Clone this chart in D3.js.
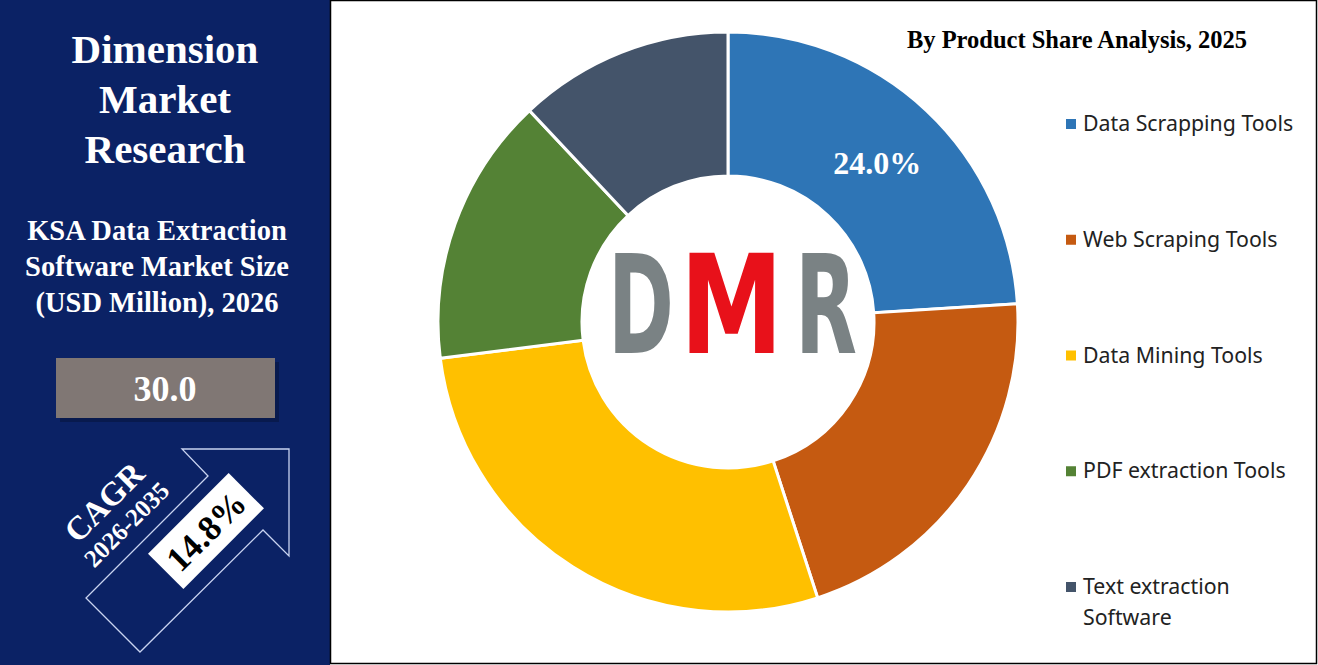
<!DOCTYPE html>
<html><head><meta charset="utf-8">
<script src="https://cdn.jsdelivr.net/npm/d3@7"></script>
<style>body{margin:0;background:#fff}svg{display:block}</style>
</head><body><svg id="svg"></svg>
<script>
var w = 1318, h = 665;
var categories = ["Data Scrapping Tools", "Web Scraping Tools", "Data Mining Tools", "PDF extraction Tools", "Text extraction Software"];
var shares = [24.0, 21.0, 28.0, 15.0, 12.0];
var colors = ["#2e75b6", "#c55a11", "#ffc000", "#548235", "#44546a"];
var marketSize = "30.0", cagr = "14.8%";

var svg = d3.select("#svg").attr("width", w).attr("height", h);
var serif = "'Liberation Serif','Times New Roman',serif";

// left panel
svg.append("rect").attr("width", 330).attr("height", h).attr("fill", "#0b2265");
["Dimension", "Market", "Research"].forEach(function(t, i) {
    svg.append("text").attr("x", 165).attr("y", 63 + i * 50).attr("text-anchor", "middle")
        .attr("font-family", serif).attr("font-weight", "bold").attr("font-size", 41)
        .attr("fill", "#fff").text(t);
});
["KSA Data Extraction", "Software Market Size", "(USD Million), 2026"].forEach(function(t, i) {
    svg.append("text").attr("x", 157).attr("y", 240 + i * 36).attr("text-anchor", "middle")
        .attr("font-family", serif).attr("font-weight", "bold").attr("font-size", 28.5)
        .attr("fill", "#fff").text(t);
});
svg.append("rect").attr("x", 60).attr("y", 362).attr("width", 219).attr("height", 60).attr("fill", "#061640").attr("opacity", 0.6);
svg.append("rect").attr("x", 56).attr("y", 358).attr("width", 219).attr("height", 60).attr("fill", "#807774");
svg.append("text").attr("x", 165).attr("y", 401).attr("text-anchor", "middle")
    .attr("font-family", serif).attr("font-weight", "bold").attr("font-size", 36)
    .attr("fill", "#fff").text(marketSize);

svg.append("polygon")
    .attr("points", "182,449 289,449 289,556 263,530 140,652 86,598 208,476")
    .attr("fill", "none").attr("stroke", "#c9d3f0").attr("stroke-width", 1.3);
svg.append("g").attr("transform", "translate(206,531) rotate(-45)")
    .call(function(g) {
        g.append("rect").attr("x", -57).attr("y", -25).attr("width", 114).attr("height", 50).attr("fill", "#fff");
        g.append("text").attr("y", 12).attr("text-anchor", "middle").attr("font-family", serif)
            .attr("font-weight", "bold").attr("font-size", 35).attr("fill", "#000").text(cagr);
    });
svg.append("g").attr("transform", "translate(112,510) rotate(-45)")
    .call(function(g) {
        g.append("text").attr("y", 0).attr("text-anchor", "middle").attr("font-family", serif)
            .attr("font-weight", "bold").attr("font-size", 33).attr("fill", "#fff").text("CAGR");
        g.append("text").attr("y", 29).attr("text-anchor", "middle").attr("font-family", serif)
            .attr("font-weight", "bold").attr("font-size", 25).attr("fill", "#fff").text("2026-2035");
    });

// chart frame
svg.append("rect").attr("x", 330.5).attr("y", 0.5).attr("width", w - 332).attr("height", h - 2)
    .attr("fill", "none").attr("stroke", "#000").attr("stroke-width", 1.5);
svg.append("text").attr("x", 1077).attr("y", 48).attr("text-anchor", "middle")
    .attr("font-family", serif).attr("font-weight", "bold").attr("font-size", 24.5)
    .attr("fill", "#000").text("By Product Share Analysis, 2025");

// donut
var cx = 728, cy = 322;
var pie = d3.pie().sort(null).value(function(d) { return d; });
var arc = d3.arc().innerRadius(146).outerRadius(290);
var g = svg.append("g").attr("transform", "translate(" + cx + "," + cy + ")");
var arcs = pie(shares);
g.selectAll("path").data(arcs).enter().append("path")
    .attr("d", arc).attr("fill", function(d, i) { return colors[i]; })
    .attr("stroke", "#fff").attr("stroke-width", 3);
var lab = d3.arc().innerRadius(218).outerRadius(218);
g.append("text").attr("transform", "translate(" + lab.centroid(arcs[0]) + ")")
    .attr("text-anchor", "middle").attr("dy", "0.35em")
    .attr("font-family", serif).attr("font-weight", "bold").attr("font-size", 32)
    .attr("fill", "#fff").text(shares[0].toFixed(1) + "%");

// logo
[["D", 608, 66, "#7a8284"], ["R", 795, 62, "#7a8284"], ["M", 680, 103, "#e8111a"]].forEach(function(l) {
    svg.append("text").attr("x", l[1]).attr("y", 353)
        .attr("font-family", "'DejaVu Sans',sans-serif").attr("font-weight", "bold").attr("font-size", 137)
        .attr("textLength", l[2]).attr("lengthAdjust", "spacingAndGlyphs")
        .attr("fill", l[3]).text(l[0]);
});

// legend
var ly = d3.scalePoint().domain(categories).range([124, 587]);
var leg = svg.append("g").selectAll("g").data(categories).enter().append("g")
    .attr("transform", function(d) { return "translate(1066," + ly(d) + ")"; });
leg.append("rect").attr("x", 0).attr("y", -5).attr("width", 10).attr("height", 10)
    .attr("fill", function(d, i) { return colors[i]; });
leg.each(function(d) {
    var words = d === "Text extraction Software" ? ["Text extraction", "Software"] : [d];
    var t = d3.select(this);
    words.forEach(function(s, j) {
        t.append("text").attr("x", 17).attr("y", 7 + j * 31)
            .attr("font-family", "'Noto Sans','Open Sans',sans-serif").attr("font-size", 21.3)
            .attr("fill", "#222").text(s);
    });
});
</script></body></html>
